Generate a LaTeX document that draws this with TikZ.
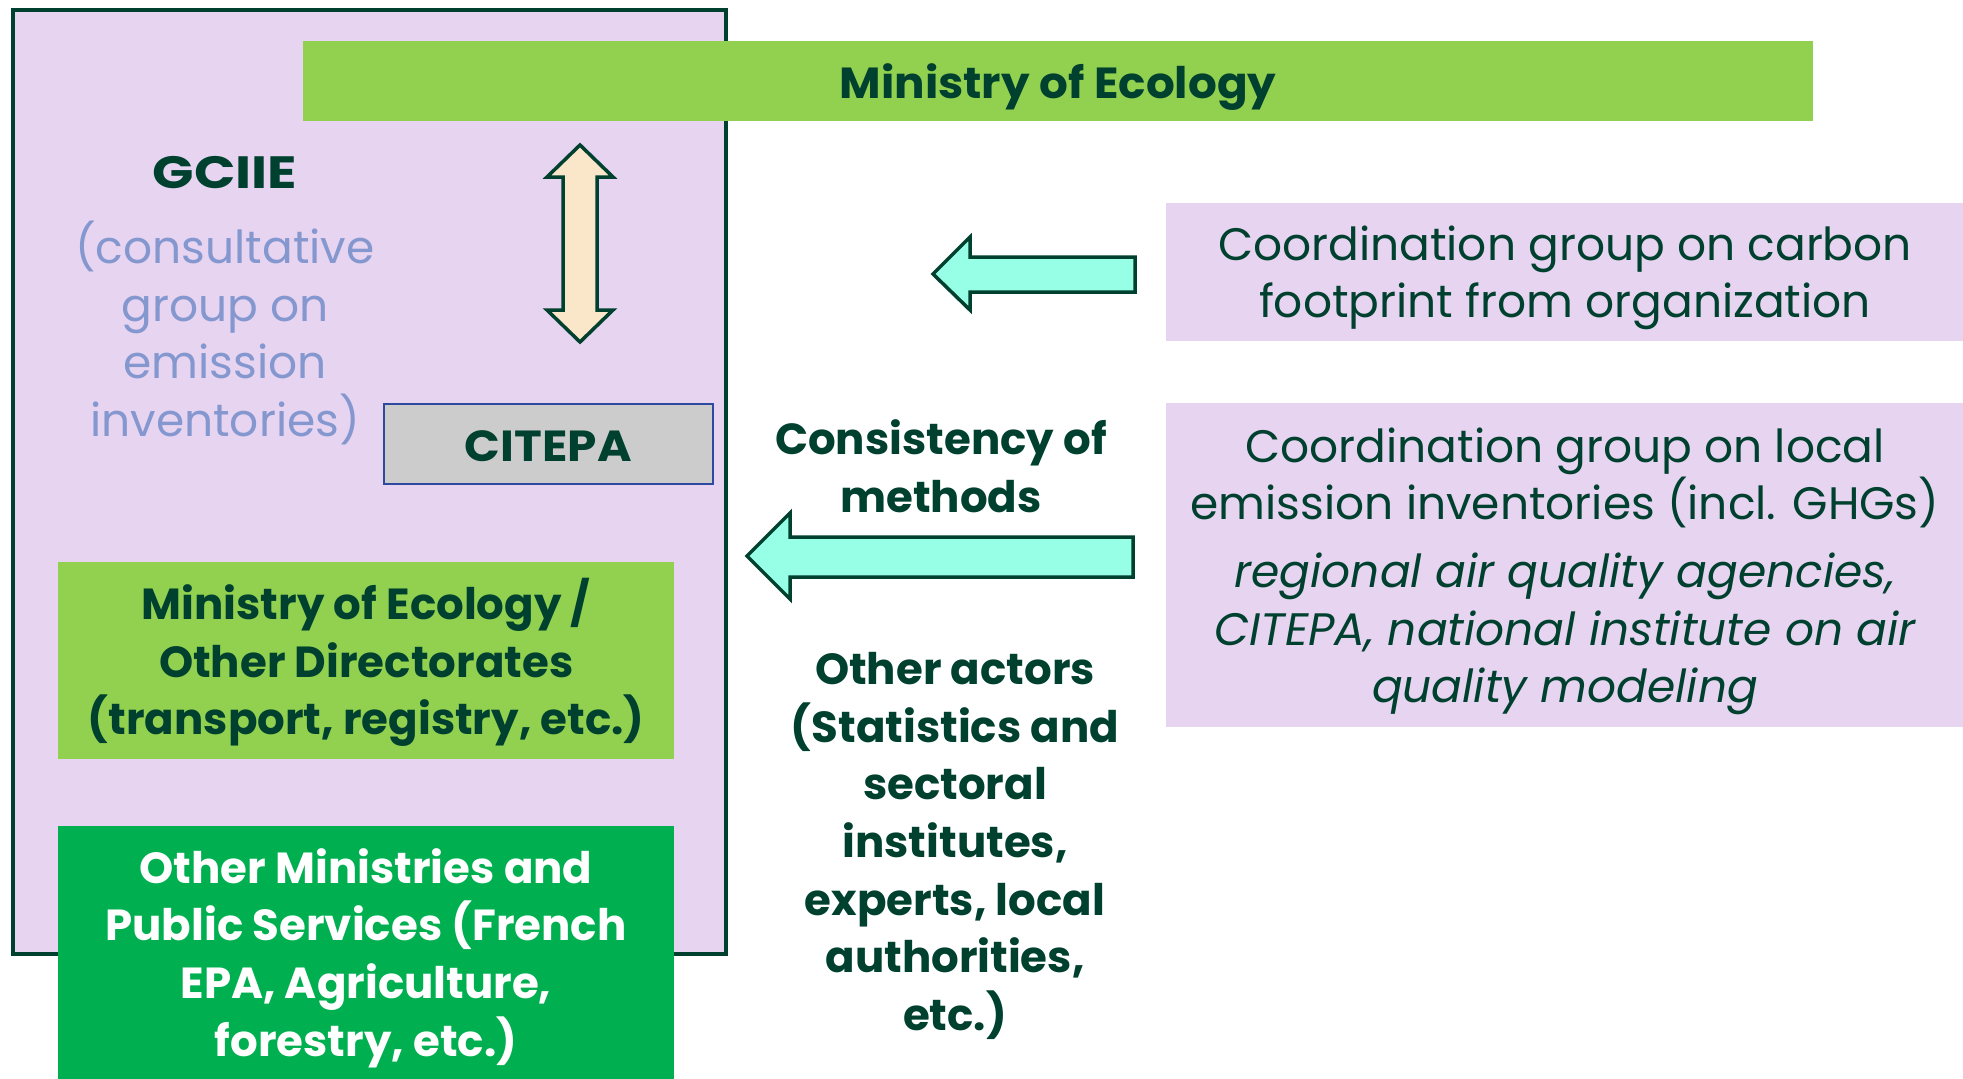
\documentclass[tikz,border=0pt]{standalone}
\usepackage{fontspec}
\setmainfont{Poppins}
\usetikzlibrary{calc}
\begin{document}
\definecolor{lilac}{HTML}{E6D4F0}
\definecolor{deepgreen}{HTML}{00402F}
\definecolor{limegreen}{HTML}{92D050}
\definecolor{boxgreen}{HTML}{00B050}
\definecolor{aqua}{HTML}{96FFE6}
\definecolor{beige}{HTML}{FAE6C8}
\definecolor{slateblue}{HTML}{8497CF}
\definecolor{citeblue}{HTML}{2E4A9E}
\definecolor{citegrey}{HTML}{CCCCCC}
\begin{tikzpicture}[x=1pt,y=-1pt,
  txt/.style={align=center,text=deepgreen,font=\fontsize{45.5}{57.6}\selectfont,inner sep=0pt},
  boldtxt/.style={txt,font=\fontsize{43.5}{57.6}\selectfont\bfseries},
  blockarrow/.style={draw=deepgreen,line width=3.5pt,line join=miter,fill=aqua}]
\useasboundingbox (0,0) rectangle (1963,1079);
\fill[white] (0,0) rectangle (1963,1079);

% GCIIE frame
\draw[draw=deepgreen,line width=4pt,fill=lilac] (13,10) rectangle (726,954);

% top ministry bar
\node[fill=limegreen,minimum width=1510pt,minimum height=80pt,inner sep=0pt,anchor=north west]
  (eco) at (303,41) {};
\node[boldtxt] (ecotxt) at (1058,87) {\scalebox{1.04}[1]{Ministry of Ecology}};

% consultative group label
\node[boldtxt] (gciie) at (225,173) {\scalebox{1.25}[1.04]{GCIIE}};
\node[txt,text=slateblue] (gcdesc) at (225,333)
  {(consultative\\group on\\emission\\inventories)};

% two-way arrow between ministry and CITEPA
\draw[draw=deepgreen,line width=3.5pt,line join=miter,fill=beige]
  (580,145) -- (613,177) -- (597,177) -- (597,310) -- (613,310) -- (580,342)
  -- (547,310) -- (563,310) -- (563,177) -- (547,177) -- cycle;

% CITEPA
\node[draw=citeblue,line width=1.5pt,fill=citegrey,minimum width=329pt,minimum height=80pt,
  inner sep=0pt,anchor=north west] (citepa) at (383,403) {};
\node[boldtxt] at ($(citepa.center)+(0,2)$) {\scalebox{1.08}[1]{CITEPA}};

% other directorates
\node[fill=limegreen,minimum width=616pt,minimum height=197pt,inner sep=0pt,anchor=north west]
  (dir) at (58,562) {};
\node[boldtxt] at ($(dir.center)+(0,2)$) {Ministry of Ecology /\\Other Directorates\\(transport, registry, etc.)};

% other ministries
\node[fill=boxgreen,minimum width=616pt,minimum height=253pt,inner sep=0pt,anchor=north west]
  (mins) at (58,826) {};
\node[boldtxt,text=white] at (366,958) {Other Ministries and\\Public Services (French\\EPA, Agriculture,\\forestry, etc.)};

% right-hand groups
\node[fill=lilac,minimum width=797pt,minimum height=138pt,inner sep=0pt,anchor=north west]
  (carbon) at (1166,203) {};
\node[txt] at (1565,278) {Coordination group on carbon\\footprint from organization};

\node[fill=lilac,minimum width=797pt,minimum height=324pt,inner sep=0pt,anchor=north west]
  (local) at (1166,403) {};
\node[txt] at (1565,478) {Coordination group on local\\emission inventories (incl. GHGs)};
\node[txt,font=\fontsize{45.5}{57.6}\selectfont\itshape] at (1565,634)
  {regional air quality agencies,\\CITEPA, national institute on air\\quality modeling};

% flow arrows towards the inventory system
\draw[blockarrow] (1135,257) -- (970,257) -- (970,237) -- (933,274) -- (970,310) -- (970,292) -- (1135,292) -- cycle;
\draw[blockarrow] (1133,537) -- (790,537) -- (790,513) -- (747,556) -- (790,599) -- (790,577) -- (1133,577) -- cycle;

\node[boldtxt] (cons) at (941,466) {Consistency of\\methods};
\node[boldtxt] (actors) at (955,846) {Other actors\\(Statistics and\\sectoral\\institutes,\\experts, local\\authorities,\\etc.)};
\end{tikzpicture}
\end{document}
